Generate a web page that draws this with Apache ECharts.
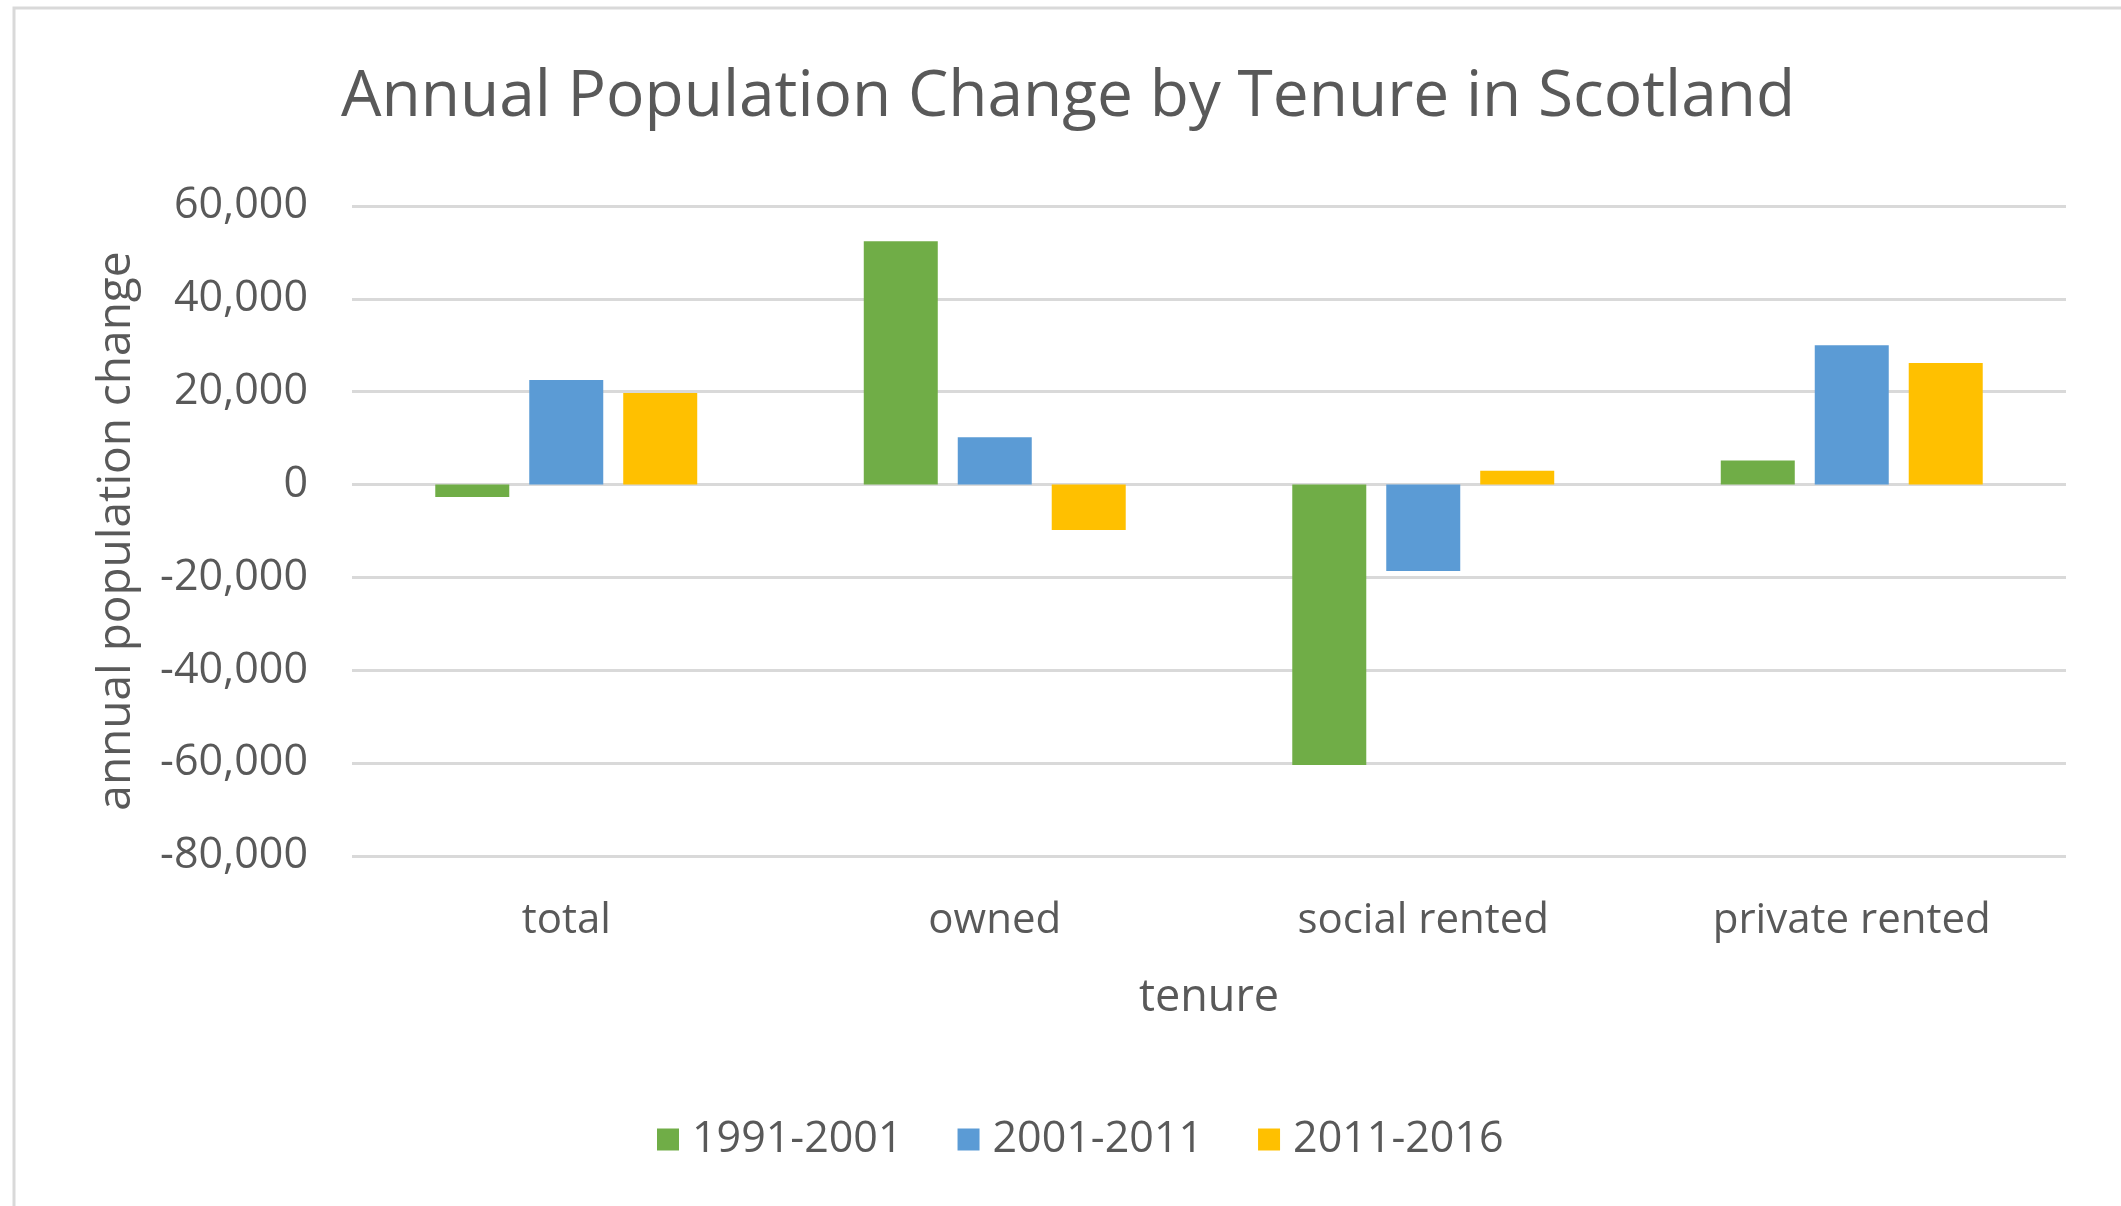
<!DOCTYPE html>
<html>
<head>
<meta charset="utf-8">
<script src="https://cdn.jsdelivr.net/npm/echarts@6/dist/echarts.min.js"></script>
<style>
  html, body { margin: 0; padding: 0; background: #fff; }
  #chart { width: 2121px; height: 1206px; }
</style>
</head>
<body>
<div id="chart"></div>
<script>
// tenure categories along x
const categories = ['total', 'owned', 'social rented', 'private rented']
const periods = ['1991-2001', '2001-2011', '2011-2016']

// annual population change
const change1991 = [-2700, 52400, -60400, 5200]
const change2001 = [22500, 10200, -18600, 30000]
const change2011 = [19700, -9800, 3000, 26200]

const colors = ['#70AD47', '#5B9BD5', '#FFC000']
const textColor = '#595959'
const font = 'Open Sans'

const chart = echarts.init(document.getElementById('chart'))

const seriesData = [change1991, change2001, change2011]
const series = periods.map((name, i) => ({
  name: name,
  type: 'bar',
  data: seriesData[i],
  barWidth: 74,
  barGap: '27%',
  itemStyle: { color: colors[i] }
}))

chart.setOption({
  animation: false,
  textStyle: { fontFamily: font, color: textColor },
  graphic: [{
    type: 'rect',
    shape: { x: 14, y: 8, width: 2200, height: 1300 },
    style: { fill: 'none', stroke: '#d9d9d9', lineWidth: 3 },
    silent: true
  }],
  title: {
    text: 'Annual Population Change by Tenure in Scotland',
    left: 1063,
    textAlign: 'center',
    top: 61,
    textStyle: { fontFamily: font, fontSize: 64, fontWeight: 'normal', color: textColor }
  },
  legend: {
    data: periods,
    left: 652,
    top: 1113,
    itemWidth: 22,
    itemHeight: 22,
    itemGap: 55,
    icon: 'rect',
    textStyle: { fontFamily: font, fontSize: 43, color: textColor, padding: [0, 0, 0, 8] }
  },
  grid: {
    left: 352,
    right: 55,
    top: 206,
    bottom: 350
  },
  xAxis: {
    type: 'category',
    data: categories,
    axisLine: { show: false },
    axisTick: { show: false },
    axisLabel: { fontSize: 42, color: textColor, margin: 44 },
    name: 'tenure',
    nameLocation: 'middle',
    nameGap: 120,
    nameTextStyle: { fontSize: 45, color: textColor }
  },
  yAxis: {
    type: 'value',
    min: -80000,
    max: 60000,
    interval: 20000,
    axisLine: { show: false },
    axisTick: { show: false },
    axisLabel: {
      fontSize: 43,
      color: textColor,
      margin: 44,
      formatter: v => v.toLocaleString('en-US')
    },
    splitLine: { lineStyle: { color: '#d9d9d9', width: 3 } },
    name: 'annual population change',
    nameLocation: 'middle',
    nameGap: 212,
    nameTextStyle: { fontSize: 46, color: textColor }
  },
  series: series
})
</script>
</body>
</html>
